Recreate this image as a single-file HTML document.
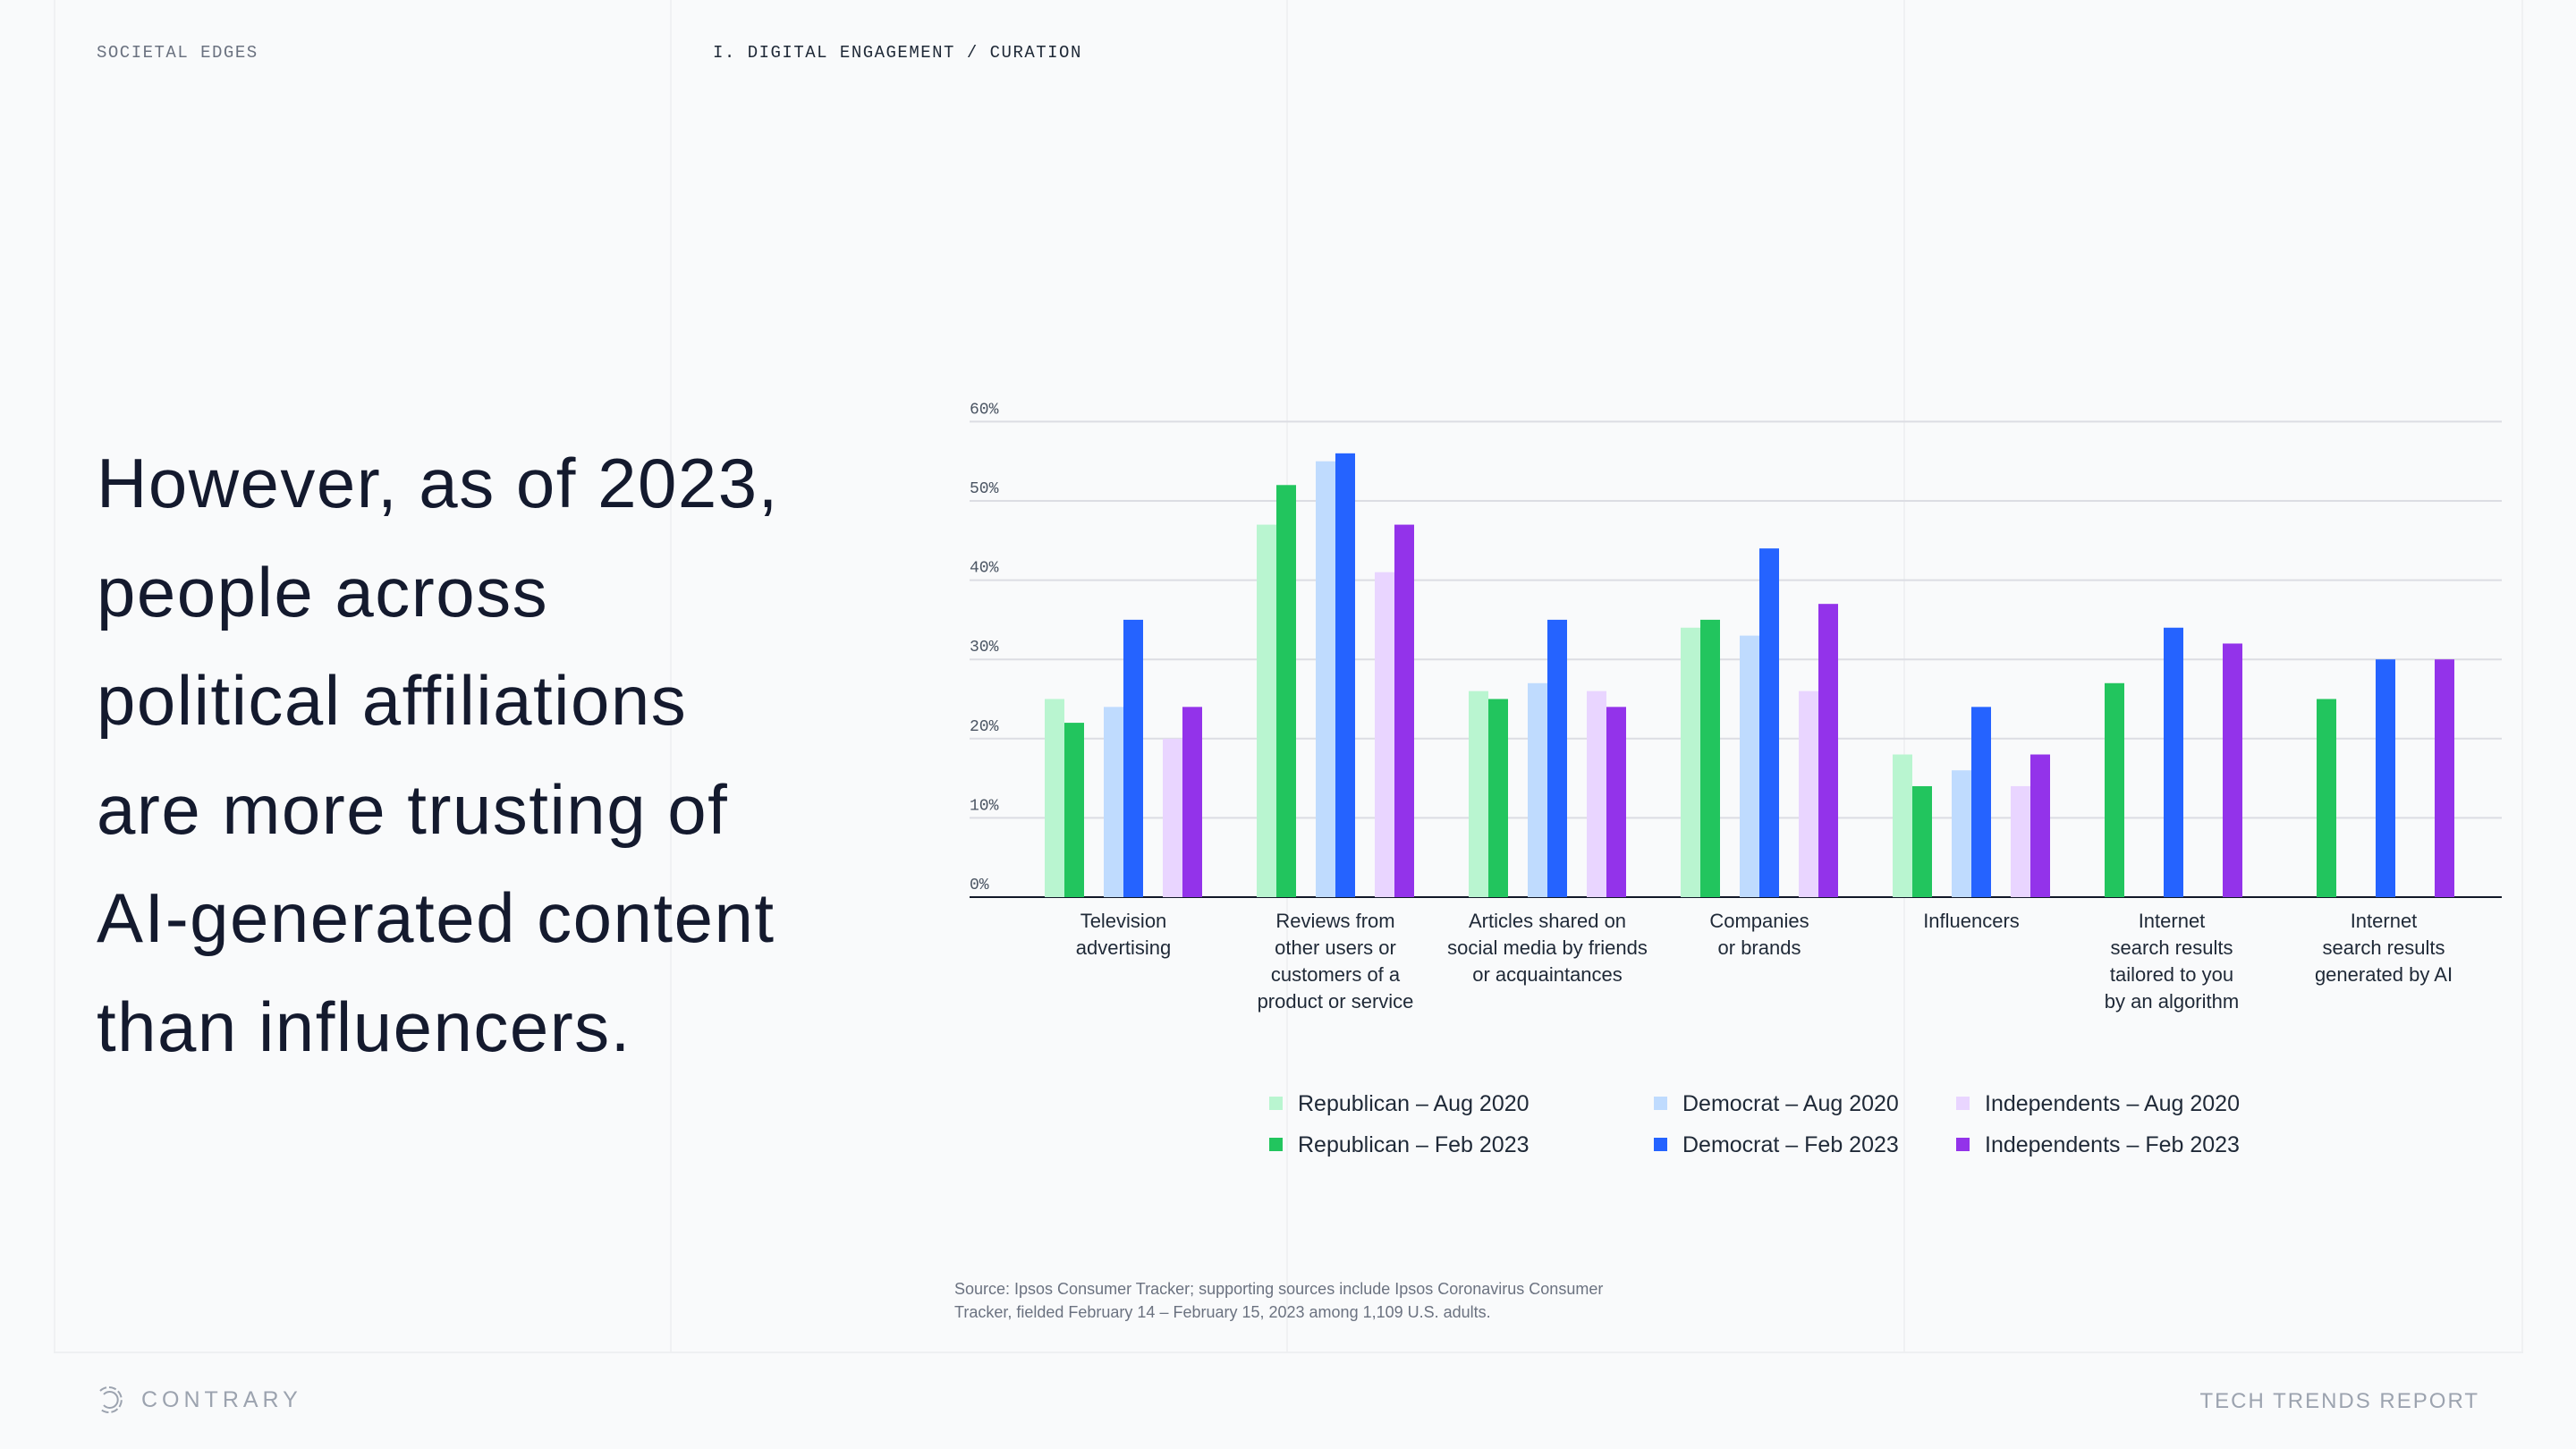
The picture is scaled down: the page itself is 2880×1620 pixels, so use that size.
<!DOCTYPE html>
<html><head><meta charset="utf-8"><style>
body{margin:0;width:2880px;height:1620px;background:#f9fafb;position:relative;overflow:hidden;font-family:"Liberation Sans",sans-serif}
.abs{position:absolute}
.vl{position:absolute;top:0;width:2px;height:1512px;background:#f0f1f3}
.mono{font-family:"Liberation Mono",monospace;font-size:19px;letter-spacing:1.5px}
h1{position:absolute;left:108px;top:480px;margin:0;font-weight:400;font-size:78px;line-height:121.5px;color:#141a2e;letter-spacing:1.5px}
</style></head><body>
<div class="vl" style="left:60px"></div>
<div class="vl" style="left:749px"></div>
<div class="vl" style="left:1438px"></div>
<div class="vl" style="left:2128px"></div>
<div class="vl" style="left:2819px"></div>
<div class="abs" style="left:60px;top:1511px;width:2761px;height:2px;background:#eef0f2"></div>
<div class="abs mono" style="left:108px;top:48px;color:#6b7280">SOCIETAL EDGES</div>
<div class="abs mono" style="left:797px;top:48px;color:#1f2937">I. DIGITAL ENGAGEMENT / CURATION</div>
<h1>However, as of 2023,<br>people across<br>political affiliations<br>are more trusting of<br>AI-generated content<br>than influencers.</h1>
<svg class="abs" style="left:0;top:0" width="2880" height="1620" id="chart"></svg>
<div class="abs" style="left:1067px;top:1428px;font-size:18px;line-height:26px;color:#6b7280">Source: Ipsos Consumer Tracker; supporting sources include Ipsos Coronavirus Consumer<br>Tracker, fielded February 14 – February 15, 2023 among 1,109 U.S. adults.</div>
<svg class="abs" style="left:106px;top:1547px" width="34" height="36">
<g fill="none" stroke="#9ca3af" stroke-width="2"><path d="M6 8 A14 14 0 1 1 6 28" stroke-dasharray="8 3"/><path d="M10 12 A9 9 0 1 1 10 24"/></g></svg>
<div class="abs" style="left:158px;top:1551px;font-size:25px;letter-spacing:5px;color:#9ca3af">CONTRARY</div>
<div class="abs" style="right:108px;top:1553px;font-size:24px;letter-spacing:2px;color:#9ca3af">TECH TRENDS REPORT</div>
<script>
const categories=[["Television","advertising"],["Reviews from","other users or","customers of a","product or service"],["Articles shared on","social media by friends","or acquaintances"],["Companies","or brands"],["Influencers"],["Internet","search results","tailored to you","by an algorithm"],["Internet","search results","generated by AI"]];
const seriesNames=["Republican – Aug 2020","Republican – Feb 2023","Democrat – Aug 2020","Democrat – Feb 2023","Independents – Aug 2020","Independents – Feb 2023"];
const repAug=[25,47,26,34,18,null,null];
const repFeb=[22,52,25,35,14,27,25];
const demAug=[24,55,27,33,16,null,null];
const demFeb=[35,56,35,44,24,34,30];
const indAug=[20,41,26,26,14,null,null];
const indFeb=[24,47,24,37,18,32,30];
const yTicks=[0,10,20,30,40,50,60];
const colors=["#b9f5d0","#22c55e","#bfdbfe","#2563ff","#e9d5ff","#9333ea"];
const svg=document.getElementById('chart');const NS="http://www.w3.org/2000/svg";
const X0=1084,X1=2797,Y0=1003,PER=88.6,G0=1168,GS=237,SW=22;
const y=v=>Y0-v*PER/10;
function mk(t,a){const e=document.createElementNS(NS,t);for(const k in a)e.setAttribute(k,a[k]);svg.appendChild(e);return e;}
yTicks.forEach(t=>{
 const l=mk('line',{x1:X0,x2:X1,y1:y(t),y2:y(t),stroke:t===0?'#111827':'#dcdde3','stroke-width':2});
 
 
 const tx=mk('text',{x:X0,y:y(t)-9,'font-family':'Liberation Mono, monospace','font-size':18,fill:'#4b5563'});
 tx.textContent=t+'%';
 
 
});
const series=[repAug,repFeb,demAug,demFeb,indAug,indFeb];
categories.forEach((c,i)=>{
 const start=G0+GS*i;const full=repAug[i]!==null;
 const slots=full?[0,1,3,4,6,7]:[null,0,null,3,null,6];
 series.forEach((s,j)=>{
  if(s[i]===null||slots[j]===null)return;
  const r=mk('rect',{x:start+slots[j]*SW,y:y(s[i]),width:SW,height:Y0-y(s[i]),fill:colors[j]});
  
  
 });
 const cx=full?start+4*SW:start+3.5*SW-2;
 const t=mk('text',{x:cx,'text-anchor':'middle','font-size':22,fill:'#1f2937'});
 
 
 c.forEach((ln,k)=>{const ts=document.createElementNS(NS,'tspan');ts.setAttribute('x',cx);ts.setAttribute('y',1037+k*30);ts.textContent=ln;t.appendChild(ts);});
});
const lx=[1419,1849,2187],ly=[1234,1280];
seriesNames.forEach((n,j)=>{
 const col=Math.floor(j/2),row=j%2;
 const r=mk('rect',{x:lx[col],y:ly[row]-8,width:15,height:15,fill:colors[j]});
 
 
 const t=mk('text',{x:lx[col]+32,y:ly[row]+8,'font-size':25,fill:'#1f2937'});
 t.textContent=n;
 
 
});
</script>
</body></html>
